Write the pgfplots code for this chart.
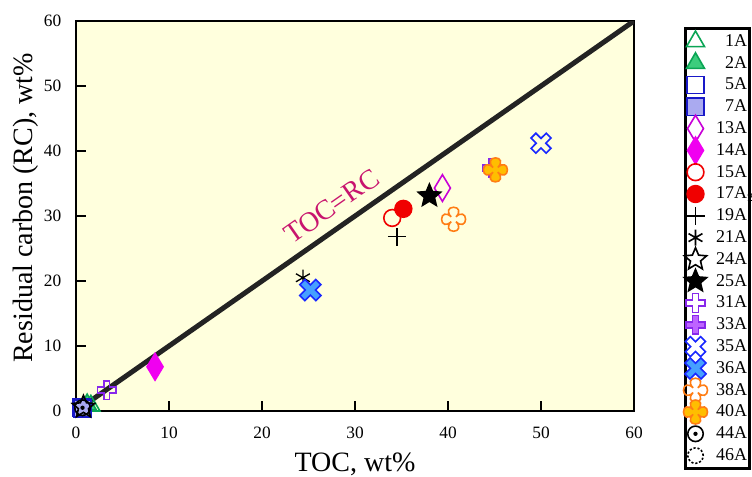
\documentclass[border=0pt]{standalone}
\usepackage{fontspec}
\setmainfont{Liberation Serif}
\usepackage{pgfplots}
\pgfplotsset{compat=1.18}

\definecolor{bgc}{RGB}{255,255,221}
\definecolor{linec}{RGB}{35,35,35}
\definecolor{tocc}{RGB}{200,20,110}
\definecolor{grn}{RGB}{10,165,85}
\definecolor{grnf}{RGB}{60,205,125}
\definecolor{blu}{RGB}{25,25,200}
\definecolor{bluf}{RGB}{170,170,240}
\definecolor{mag}{RGB}{200,0,215}
\definecolor{magf}{RGB}{240,0,240}
\definecolor{rd}{RGB}{240,0,0}
\definecolor{pur}{RGB}{135,40,235}
\definecolor{purf}{RGB}{190,100,255}
\definecolor{xb}{RGB}{25,40,255}
\definecolor{xbf}{RGB}{70,160,255}
\definecolor{org}{RGB}{255,125,20}
\definecolor{orgf}{RGB}{255,190,0}

% custom marks
\newcommand\mkp[2]{\pgfqpoint{#1\pgfplotmarksize}{#2\pgfplotmarksize}}
\newcommand\starpath{%
  \pgfpathmoveto{\pgfpointpolar{90}{\pgfplotmarksize}}%
  \pgfpathlineto{\pgfpointpolar{126}{0.45\pgfplotmarksize}}%
  \pgfpathlineto{\pgfpointpolar{162}{\pgfplotmarksize}}%
  \pgfpathlineto{\pgfpointpolar{198}{0.45\pgfplotmarksize}}%
  \pgfpathlineto{\pgfpointpolar{234}{\pgfplotmarksize}}%
  \pgfpathlineto{\pgfpointpolar{270}{0.45\pgfplotmarksize}}%
  \pgfpathlineto{\pgfpointpolar{306}{\pgfplotmarksize}}%
  \pgfpathlineto{\pgfpointpolar{342}{0.45\pgfplotmarksize}}%
  \pgfpathlineto{\pgfpointpolar{18}{\pgfplotmarksize}}%
  \pgfpathlineto{\pgfpointpolar{54}{0.45\pgfplotmarksize}}%
  \pgfpathclose}
\pgfdeclareplotmark{staro}{\starpath\pgfusepathqstroke}
\pgfdeclareplotmark{starf}{\starpath\pgfusepathqfillstroke}

\newcommand\crosspath{%
  \pgfpathmoveto{\mkp{.32}{1}}%
  \pgfpathlineto{\mkp{.32}{.32}}%
  \pgfpathlineto{\mkp{1}{.32}}%
  \pgfpathlineto{\mkp{1}{-.32}}%
  \pgfpathlineto{\mkp{.32}{-.32}}%
  \pgfpathlineto{\mkp{.32}{-1}}%
  \pgfpathlineto{\mkp{-.32}{-1}}%
  \pgfpathlineto{\mkp{-.32}{-.32}}%
  \pgfpathlineto{\mkp{-1}{-.32}}%
  \pgfpathlineto{\mkp{-1}{.32}}%
  \pgfpathlineto{\mkp{-.32}{.32}}%
  \pgfpathlineto{\mkp{-.32}{1}}%
  \pgfpathclose}
\pgfdeclareplotmark{crosso}{\crosspath\pgfusepathqstroke}
\pgfdeclareplotmark{crossf}{\crosspath\pgfusepathqfillstroke}

\newcommand\xpath{%
  \pgfpathmoveto{\mkp{-.481}{.933}}%
  \pgfpathlineto{\mkp{0}{.4525}}%
  \pgfpathlineto{\mkp{.481}{.933}}%
  \pgfpathlineto{\mkp{.933}{.481}}%
  \pgfpathlineto{\mkp{.4525}{0}}%
  \pgfpathlineto{\mkp{.933}{-.481}}%
  \pgfpathlineto{\mkp{.481}{-.933}}%
  \pgfpathlineto{\mkp{0}{-.4525}}%
  \pgfpathlineto{\mkp{-.481}{-.933}}%
  \pgfpathlineto{\mkp{-.933}{-.481}}%
  \pgfpathlineto{\mkp{-.4525}{0}}%
  \pgfpathlineto{\mkp{-.933}{.481}}%
  \pgfpathclose}
\pgfdeclareplotmark{xo}{\xpath\pgfusepathqstroke}
\pgfdeclareplotmark{xf}{\xpath\pgfusepathqfillstroke}

\newcommand\flowerpath{%
  \pgfpathmoveto{\mkp{-.2}{.2}}%
  \pgfpathcurveto{\mkp{-.6}{.6}}{\mkp{-.45}{1}}{\mkp{0}{1}}%
  \pgfpathcurveto{\mkp{.45}{1}}{\mkp{.6}{.6}}{\mkp{.2}{.2}}%
  \pgfpathcurveto{\mkp{.6}{.6}}{\mkp{1}{.45}}{\mkp{1}{0}}%
  \pgfpathcurveto{\mkp{1}{-.45}}{\mkp{.6}{-.6}}{\mkp{.2}{-.2}}%
  \pgfpathcurveto{\mkp{.6}{-.6}}{\mkp{.45}{-1}}{\mkp{0}{-1}}%
  \pgfpathcurveto{\mkp{-.45}{-1}}{\mkp{-.6}{-.6}}{\mkp{-.2}{-.2}}%
  \pgfpathcurveto{\mkp{-.6}{-.6}}{\mkp{-1}{-.45}}{\mkp{-1}{0}}%
  \pgfpathcurveto{\mkp{-1}{.45}}{\mkp{-.6}{.6}}{\mkp{-.2}{.2}}%
  \pgfpathclose}
\pgfdeclareplotmark{flowero}{\flowerpath\pgfusepathqstroke}
\pgfdeclareplotmark{flowerf}{\flowerpath\pgfusepathqfillstroke}

\newcommand\diapath{%
  \pgfpathmoveto{\mkp{0}{1}}%
  \pgfpathlineto{\mkp{.6}{0}}%
  \pgfpathlineto{\mkp{0}{-1}}%
  \pgfpathlineto{\mkp{-.6}{0}}%
  \pgfpathclose}
\pgfdeclareplotmark{diao}{\diapath\pgfusepathqstroke}
\pgfdeclareplotmark{diaf}{\diapath\pgfusepathqfillstroke}

\pgfdeclareplotmark{odot}{%
  \pgfpathcircle{\pgfpointorigin}{\pgfplotmarksize}\pgfusepathqstroke
  \pgfpathcircle{\pgfpointorigin}{.28\pgfplotmarksize}\pgfusepathqfill}

\pgfplotsset{
  mk/.style={only marks, line width=1.2pt,
    legend image code/.code={%
      \path[draw=none, fill=none] (0pt,-8.175pt) rectangle (21pt,8.175pt);
      \begin{scope}[overlay]
      \draw[line width=1.2pt, ##1, only marks] plot coordinates {(5.5pt,0pt)};
      \end{scope}}},
}

\begin{document}
\begin{tikzpicture}
\begin{axis}[
  name=ax,
  scale only axis,
  width=418.5pt, height=292.5pt,
  xmin=0, xmax=60, ymin=0, ymax=60,
  xtick={0,10,...,60}, ytick={0,10,...,60},
  xtick pos=bottom, ytick pos=left,
  tick align=inside,
  major tick length=7.5pt,
  axis line style={line width=1.1pt},
  tick style={line width=1.1pt, black},
  axis background/.style={fill=bgc},
  /pgf/number format/assume math mode=true,
  tick label style={font=\fontsize{13}{15}\selectfont},
  xticklabel style={yshift=-8.5pt},
  yticklabel style={xshift=-7.5pt},
  xlabel={TOC, wt\%},
  ylabel={Residual carbon (RC), wt\%},
  label style={font=\fontsize{21}{24}\selectfont},
  xlabel style={at={(axis description cs:0.5,-0.1556)}, anchor=base},
  ylabel style={at={(axis description cs:-0.0771,0.5205)}, anchor=base},
  legend style={
    at={(axis description cs:1.0896,0.9846)}, anchor=north west,
    draw=black, line width=2.25pt, fill=white,
    inner xsep=2pt, inner ysep=1.5pt,
    row sep=0pt, column sep=0pt,
    nodes={inner sep=0pt, draw=none},
    font=\fontsize{13.5}{15}\selectfont},
  legend cell align=right,
]
\addplot[mk, mark=triangle, mark size=7.8pt, mark options={draw=grn}] coordinates {(1.6,0.8)};
\addlegendentry{1A}
\addplot[mk, mark=triangle*, mark size=7.8pt, mark options={draw=grn, fill=grnf}] coordinates {(1.2,1.0)};
\addlegendentry{2A}
\addplot[mk, mark=square, mark size=6.4pt, mark options={draw=blu}] coordinates {(0.6,0.5)};
\addlegendentry{5A}
\addplot[mk, mark=square*, mark size=6.4pt, mark options={draw=blu, fill=bluf}] coordinates {(0.7,0.4)};
\addlegendentry{7A}
\addplot[mk, mark=diao, mark size=10pt, mark options={draw=mag}] coordinates {(39.4,34.3)};
\addlegendentry{13A}
\addplot[mk, mark=diaf, mark size=10pt, mark options={draw=magf, fill=magf}] coordinates {(8.5,6.8)};
\addlegendentry{14A}
\addplot[mk, mark=o, mark size=6.3pt, mark options={draw=rd}] coordinates {(34.0,29.7)};
\addlegendentry{15A}
\addplot[mk, mark=*, mark size=6.3pt, mark options={draw=rd, fill=rd}] coordinates {(35.2,31.1)};
\addlegendentry{17A\rlap{$_2$}}
\addplot[mk, mark=+, mark size=6.75pt, line width=1pt, mark options={draw=black}] coordinates {(34.5,26.8)};
\addlegendentry{19A}
\addplot[mk, mark=asterisk, mark size=6pt, line width=1pt, mark options={draw=black}] coordinates {(24.4,20.5)};
\addlegendentry{21A}
\addplot[mk, mark=staro, mark size=8.8pt, mark options={draw=black}] coordinates {(0.8,0.6)};
\addlegendentry{24A}
\addplot[mk, mark=starf, mark size=8.8pt, mark options={draw=black, fill=black}] coordinates {(38.0,33.1)};
\addlegendentry{25A}
\addplot[mk, mark=crosso, mark size=7pt, mark options={draw=pur}] coordinates {(3.3,3.2)};
\addlegendentry{31A}
\addplot[mk, mark=crossf, mark size=7pt, mark options={draw=pur, fill=purf}] coordinates {(44.7,37.4)};
\addlegendentry{33A}
\addplot[mk, mark=xo, mark size=8pt, mark options={draw=xb}] coordinates {(50.0,41.2)};
\addlegendentry{35A}
\addplot[mk, mark=xf, mark size=8.5pt, mark options={draw=xb, fill=xbf}] coordinates {(25.2,18.6)};
\addlegendentry{36A}
\addplot[mk, mark=flowero, mark size=9pt, mark options={draw=org}] coordinates {(40.6,29.5)};
\addlegendentry{38A}
\addplot[mk, mark=flowerf, mark size=9pt, mark options={draw=org, fill=orgf}] coordinates {(45.1,37.1)};
\addlegendentry{40A}
\addplot[mk, mark=odot, mark size=5.8pt, mark options={draw=black, fill=black}] coordinates {(0.7,0.5)};
\addlegendentry{44A}
\addplot[mk, mark=o, mark size=5.8pt, line width=1pt, mark options={draw=black, dash pattern=on 1.6pt off 1.4pt}] coordinates {(0.7,0.5)};
\addlegendentry{46A}
\addplot[forget plot, no marks, line width=3.75pt, color=linec] coordinates {(0,0) (60,60)};
\node[rotate=35, text=tocc, font=\fontsize{21}{24}\selectfont] at (axis cs:27.5,31.5) {TOC=RC};
\end{axis}
\pgfresetboundingbox
\path[use as bounding box] ([xshift=-57pt,yshift=-49.5pt]ax.south west) rectangle ([xshift=507pt,yshift=308.25pt]ax.south west);
\end{tikzpicture}
\end{document}
